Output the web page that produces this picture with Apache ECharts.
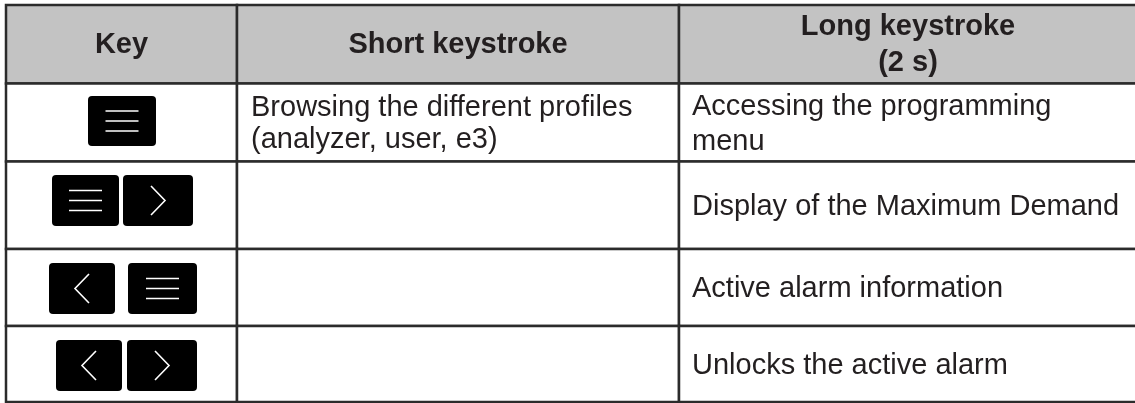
<!DOCTYPE html>
<html>
<head>
<meta charset="utf-8">
<script src="https://cdn.jsdelivr.net/npm/echarts@6/dist/echarts.min.js"></script>
<style>
html,body{margin:0;padding:0;background:#fff;}
#chart{width:1135px;height:403px;}
</style>
</head>
<body>
<div id="chart"></div>
<script>
// ---- table content ----
const headers = ['Key', 'Short keystroke', 'Long keystroke\n(2 s)'];
const keyCombos = [['menu'], ['menu', 'right'], ['left', 'menu'], ['left', 'right']];
const shortKeystroke = ['Browsing the different profiles\n(analyzer, user, e3)', '', '', ''];
const longKeystroke = ['Accessing the programming\nmenu', 'Display of the Maximum Demand', 'Active alarm information', 'Unlocks the active alarm'];

// ---- layout (pixel space of the hidden axes) ----
const W = 1135, H = 403;
const colEdges = [6, 237, 679, 1137];
const rowEdges = [5, 83.5, 161.5, 249, 326, 402];
const keyXs = [[[88, 156]], [[52, 119], [123, 193]], [[49, 115], [128, 197]], [[56, 122], [127, 197]]];
const keyYs = [[96, 146], [175, 226], [263, 314], [340, 391]];
const textPad = [0, 14, 13];
const lineHeights = [36, 32, 35];

const FONT = '"Liberation Sans", Arial, Helvetica, sans-serif';
const TEXT = '#231f20';
const BORDER = '#2b2b2b';
const HEAD_BG = '#c3c3c3';

// cells data: [col, row]
const cellData = [];
for (let r = 0; r < 5; r++) for (let c = 0; c < 3; c++) cellData.push([c, r]);

function cellText(c, r) {
  if (r === 0) return headers[c];
  if (c === 1) return shortKeystroke[r - 1];
  if (c === 2) return longKeystroke[r - 1];
  return '';
}

// key data: [row, slot]
const keyData = [];
keyCombos.forEach((combo, r) => combo.forEach((k, s) => keyData.push([r, s])));

const chart = echarts.init(document.getElementById('chart'), null, {renderer: 'canvas'});
chart.setOption({
  animation: false,
  backgroundColor: '#fff',
  grid: {left: 0, right: 0, top: 0, bottom: 0},
  xAxis: {type: 'value', min: 0, max: W, show: false},
  yAxis: {type: 'value', min: 0, max: H, inverse: true, show: false},
  series: [
    {
      type: 'custom',
      name: 'cells',
      clip: false,
      data: cellData,
      renderItem: function (params, api) {
        const c = api.value(0), r = api.value(1);
        const p0 = api.coord([colEdges[c], rowEdges[r]]);
        const p1 = api.coord([colEdges[c + 1], rowEdges[r + 1]]);
        const children = [{
          type: 'rect',
          shape: {x: p0[0], y: p0[1], width: p1[0] - p0[0], height: p1[1] - p0[1]},
          style: {fill: r === 0 ? HEAD_BG : '#fff', stroke: BORDER, lineWidth: 2.5}
        }];
        const txt = cellText(c, r);
        if (txt) {
          const isHead = r === 0;
          const x = isHead ? (p0[0] + p1[0]) / 2 : p0[0] + textPad[c];
          const y = (p0[1] + p1[1]) / 2 + (isHead ? 0.5 : 1.5);
          children.push({
            type: 'text',
            style: {
              text: txt, x: x, y: y,
              align: isHead ? 'center' : 'left',
              verticalAlign: 'middle',
              font: (isHead ? 'bold ' : '') + '29px ' + FONT,
              lineHeight: isHead ? lineHeights[0] : lineHeights[c],
              fill: TEXT
            }
          });
        }
        return {type: 'group', children: children};
      }
    },
    {
      type: 'custom',
      name: 'keys',
      clip: false,
      z: 5,
      data: keyData,
      renderItem: function (params, api) {
        const r = api.value(0), s = api.value(1);
        const kind = keyCombos[r][s];
        const xs = keyXs[r][s], ys = keyYs[r];
        const p0 = api.coord([xs[0], ys[0]]);
        const p1 = api.coord([xs[1], ys[1]]);
        const cx = (p0[0] + p1[0]) / 2, cy = (p0[1] + p1[1]) / 2;
        const children = [{
          type: 'rect',
          shape: {x: p0[0], y: p0[1], width: p1[0] - p0[0], height: p1[1] - p0[1], r: 4},
          style: {fill: '#000'}
        }];
        const ws = {stroke: '#fff', lineWidth: 1.6, fill: null};
        if (kind === 'menu') {
          [-10, 0, 10].forEach(function (d) {
            children.push({type: 'line', shape: {x1: cx - 16.5, y1: cy + d, x2: cx + 16.5, y2: cy + d}, style: ws});
          });
        } else {
          const dir = kind === 'right' ? 1 : -1;
          children.push({
            type: 'polyline',
            shape: {points: [[cx - dir * 7, cy - 14.5], [cx + dir * 7, cy], [cx - dir * 7, cy + 14.5]]},
            style: ws
          });
        }
        return {type: 'group', children: children};
      }
    }
  ]
});
</script>
</body>
</html>
